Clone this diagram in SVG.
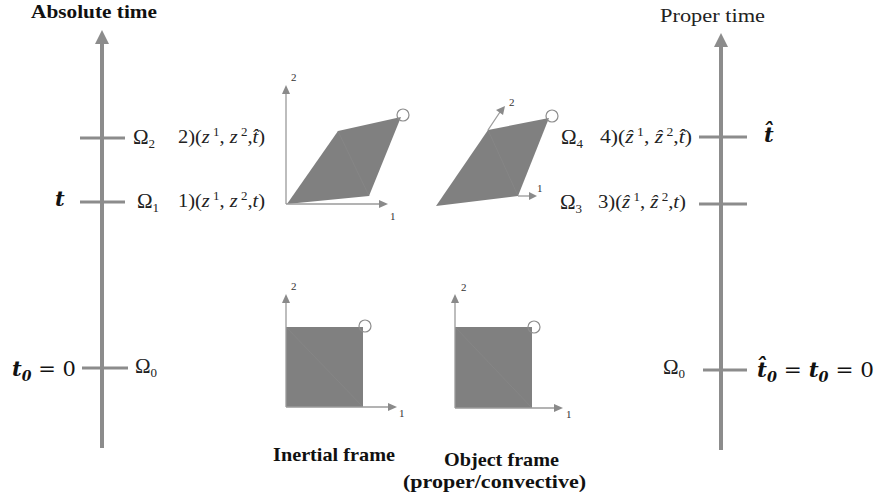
<svg xmlns="http://www.w3.org/2000/svg" width="881" height="496" viewBox="0 0 881 496">
<style>
.ax{stroke:#8c8c8c;stroke-width:4;fill:none}
.tick{stroke:#8c8c8c;stroke-width:3}
.head{fill:#8c8c8c}
.thin{stroke:#9a9a9a;stroke-width:1.3;fill:none}
.thead{fill:#8a8a8a}
.shape{fill:#808080}
.seam{stroke:#878787;stroke-width:0.8}
.circ{fill:none;stroke:#8c8c8c;stroke-width:1.2}
.title{font-family:"Liberation Serif",serif;font-weight:bold;font-size:18px;fill:#111}
.cap{font-family:"Liberation Serif",serif;font-weight:bold;font-size:19px;fill:#111}
.lab{font-family:"Liberation Serif",serif;font-size:19px;fill:#222}
.om{font-family:"Liberation Serif",serif;font-size:21px;fill:#222}
.num{font-family:"Liberation Serif",serif;font-size:11px;fill:#333}
.math{font-family:"DejaVu Serif",serif;font-size:21px;fill:#111}
</style>
<rect width="881" height="496" fill="#fff"/>

<g id="absolute-axis">
<line class="ax" x1="102" y1="42" x2="102" y2="448"/>
<polygon class="head" points="95,44 102,30 109,44"/>
<line class="tick" x1="80" y1="138" x2="125" y2="138"/>
<line class="tick" x1="80" y1="202" x2="125" y2="202"/>
<line class="tick" x1="82" y1="368" x2="128" y2="368"/>
<text class="title" x="31" y="18" textLength="126" lengthAdjust="spacingAndGlyphs">Absolute time</text>
<text class="math" x="55" y="206" font-weight="bold" font-style="italic">t</text>
<text class="math" x="12" y="376" font-weight="bold" font-style="italic">t<tspan font-size="14" dy="5">0</tspan><tspan dy="-5" font-style="normal" font-weight="normal"> = 0</tspan></text>
<text class="om" x="133" y="144">Ω<tspan font-size="13" dy="4">2</tspan></text>
<text class="lab" x="178" y="143" textLength="87" lengthAdjust="spacingAndGlyphs">2)(<tspan font-style="italic">z</tspan><tspan font-size="12" dy="-7"> 1</tspan><tspan dy="7">, </tspan><tspan font-style="italic">z</tspan><tspan font-size="12" dy="-7"> 2</tspan><tspan dy="7">,</tspan><tspan font-style="italic">t̂</tspan>)</text>
<text class="om" x="137" y="208">Ω<tspan font-size="13" dy="4">1</tspan></text>
<text class="lab" x="178" y="207" textLength="87" lengthAdjust="spacingAndGlyphs">1)(<tspan font-style="italic">z</tspan><tspan font-size="12" dy="-7"> 1</tspan><tspan dy="7">, </tspan><tspan font-style="italic">z</tspan><tspan font-size="12" dy="-7"> 2</tspan><tspan dy="7">,</tspan><tspan font-style="italic">t</tspan>)</text>
<text class="om" x="135" y="373">Ω<tspan font-size="13" dy="4">0</tspan></text>
</g>

<g id="proper-axis">
<line class="ax" x1="721" y1="45" x2="721" y2="450"/>
<polygon class="head" points="714,47 721,33 728,47"/>
<line class="tick" x1="699" y1="137" x2="747" y2="137"/>
<line class="tick" x1="699" y1="204" x2="747" y2="204"/>
<line class="tick" x1="703" y1="370" x2="747" y2="370"/>
<text class="lab" x="660" y="22" font-size="18" textLength="105" lengthAdjust="spacingAndGlyphs">Proper time</text>
<text class="math" x="764" y="142" font-weight="bold" font-style="italic">t̂</text>
<text class="math" x="757" y="377" font-weight="bold" font-style="italic" textLength="117" lengthAdjust="spacingAndGlyphs">t̂<tspan font-size="14" dy="5">0</tspan><tspan dy="-5" font-style="normal" font-weight="normal"> = </tspan>t<tspan font-size="14" dy="5">0</tspan><tspan dy="-5" font-style="normal" font-weight="normal"> = 0</tspan></text>
<text class="om" x="561" y="144">Ω<tspan font-size="13" dy="4">4</tspan></text>
<text class="lab" x="600" y="143" textLength="92" lengthAdjust="spacingAndGlyphs">4)(<tspan font-style="italic">ẑ</tspan><tspan font-size="12" dy="-7"> 1</tspan><tspan dy="7">, </tspan><tspan font-style="italic">ẑ</tspan><tspan font-size="12" dy="-7"> 2</tspan><tspan dy="7">,</tspan><tspan font-style="italic">t̂</tspan>)</text>
<text class="om" x="560" y="209">Ω<tspan font-size="13" dy="4">3</tspan></text>
<text class="lab" x="598" y="208" textLength="88" lengthAdjust="spacingAndGlyphs">3)(<tspan font-style="italic">ẑ</tspan><tspan font-size="12" dy="-7"> 1</tspan><tspan dy="7">, </tspan><tspan font-style="italic">ẑ</tspan><tspan font-size="12" dy="-7"> 2</tspan><tspan dy="7">,</tspan><tspan font-style="italic">t</tspan>)</text>
<text class="om" x="663" y="374">Ω<tspan font-size="13" dy="4">0</tspan></text>
</g>

<g id="inertial-deformed">
<polygon class="shape" points="287,204 338,131 401,117 369,196"/>
<line class="seam" x1="338" y1="131" x2="369" y2="196"/>
<circle class="circ" cx="403" cy="115" r="6"/>
<line class="thin" x1="286" y1="204" x2="286" y2="93"/>
<polygon class="thead" points="282,94 286,85 290,94"/>
<line class="thin" x1="286" y1="204" x2="380" y2="204"/>
<polygon class="thead" points="379,200 388,204 379,208"/>
<text class="num" x="291" y="81">2</text>
<text class="num" x="390" y="220">1</text>
</g>

<g id="object-deformed">
<polygon class="shape" points="436,206 488,130 549,118 518,196"/>
<line class="seam" x1="488" y1="130" x2="518" y2="196"/>
<circle class="circ" cx="552" cy="116" r="6"/>
<line class="thin" x1="488" y1="130" x2="500" y2="112"/>
<polygon class="thead" points="496,110 505,106 503,115"/>
<line class="thin" x1="518" y1="196" x2="530" y2="196"/>
<polygon class="thead" points="529,192 537,196 529,200"/>
<text class="num" x="509" y="106">2</text>
<text class="num" x="537" y="192">1</text>
</g>

<g id="inertial-initial">
<rect class="shape" x="286" y="327" width="77" height="80"/>
<line class="seam" x1="286" y1="327" x2="363" y2="407"/>
<circle class="circ" cx="365" cy="326" r="6"/>
<line class="thin" x1="286" y1="407" x2="286" y2="302"/>
<polygon class="thead" points="282,303 286,294 290,303"/>
<line class="thin" x1="286" y1="407" x2="389" y2="407"/>
<polygon class="thead" points="388,403 397,407 388,411"/>
<text class="num" x="291" y="290">2</text>
<text class="num" x="399" y="417">1</text>
</g>

<g id="object-initial">
<rect class="shape" x="455" y="327" width="77" height="81"/>
<line class="seam" x1="455" y1="327" x2="532" y2="408"/>
<circle class="circ" cx="534" cy="327" r="6"/>
<line class="thin" x1="455" y1="408" x2="455" y2="302"/>
<polygon class="thead" points="451,303 455,294 459,303"/>
<line class="thin" x1="455" y1="408" x2="555" y2="408"/>
<polygon class="thead" points="554,404 563,408 554,412"/>
<text class="num" x="461" y="291">2</text>
<text class="num" x="566" y="418">1</text>
</g>

<g id="captions">
<text class="cap" x="273" y="461" textLength="122" lengthAdjust="spacingAndGlyphs">Inertial frame</text>
<text class="cap" x="444" y="466" textLength="115" lengthAdjust="spacingAndGlyphs">Object frame</text>
<text class="cap" x="403" y="488" textLength="183" lengthAdjust="spacingAndGlyphs">(proper/convective)</text>
</g>
</svg>
